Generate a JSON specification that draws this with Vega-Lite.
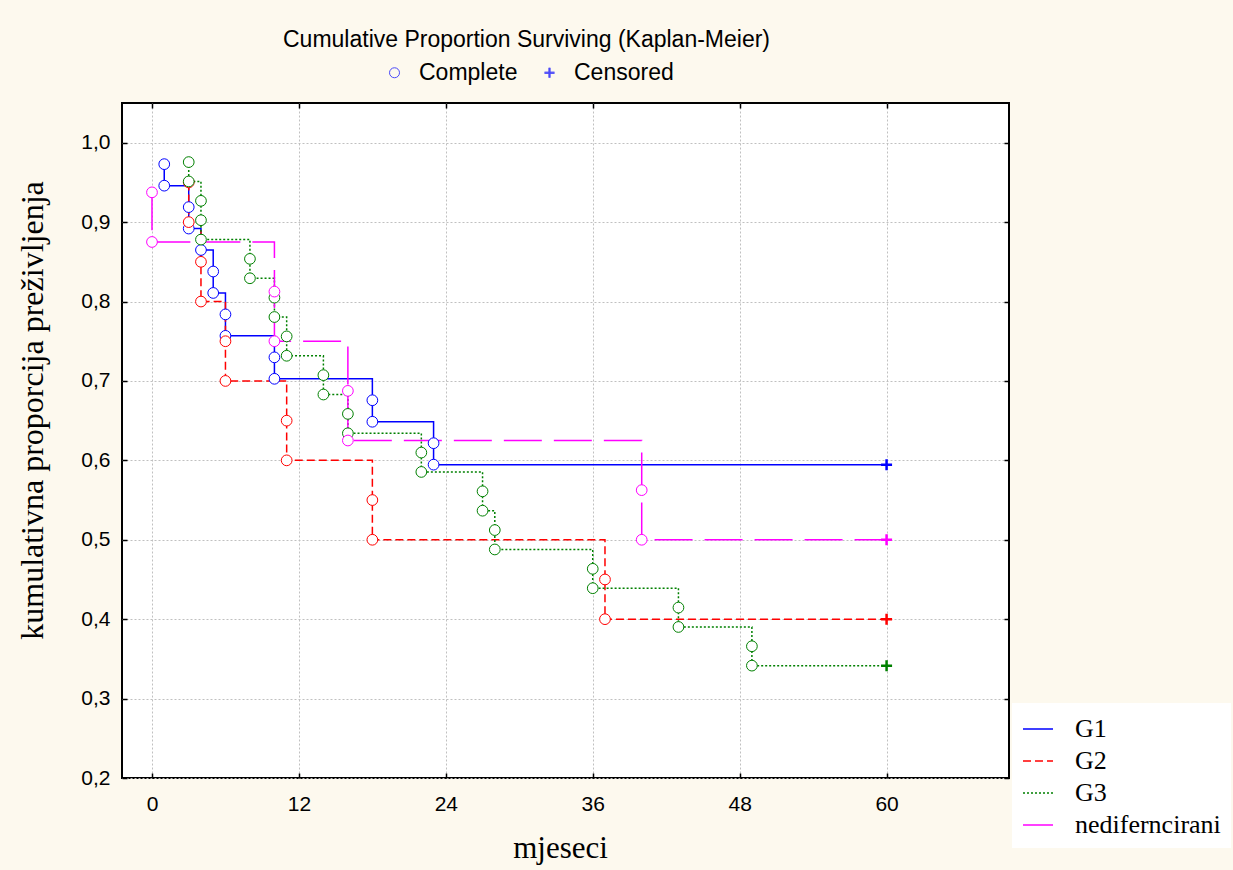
{
  "$schema": "https://vega.github.io/schema/vega-lite/v6.json",
  "width": 887,
  "height": 675,
  "autosize": {"type": "none"},
  "padding": {"left": 122, "top": 103, "right": 224, "bottom": 92},
  "background": "#FDF9EE",
  "title": {
    "text": "Cumulative Proportion Surviving (Kaplan-Meier)",
    "font": "Liberation Sans",
    "fontSize": 23,
    "fontWeight": "normal",
    "color": "#000000",
    "anchor": "middle",
    "dx": -39,
    "offset": 9
  },
  "datasets": {
    "km": [
      {"group": "G1", "i": 1, "t": 1, "s": 0.9730, "type": "Complete"},
      {"group": "G1", "i": 2, "t": 1, "s": 0.9459, "type": "Complete"},
      {"group": "G1", "i": 3, "t": 3, "s": 0.9189, "type": "Complete"},
      {"group": "G1", "i": 4, "t": 3, "s": 0.8919, "type": "Complete"},
      {"group": "G1", "i": 5, "t": 4, "s": 0.8649, "type": "Complete"},
      {"group": "G1", "i": 6, "t": 5, "s": 0.8378, "type": "Complete"},
      {"group": "G1", "i": 7, "t": 5, "s": 0.8108, "type": "Complete"},
      {"group": "G1", "i": 8, "t": 6, "s": 0.7838, "type": "Complete"},
      {"group": "G1", "i": 9, "t": 6, "s": 0.7568, "type": "Complete"},
      {"group": "G1", "i": 10, "t": 10, "s": 0.7297, "type": "Complete"},
      {"group": "G1", "i": 11, "t": 10, "s": 0.7027, "type": "Complete"},
      {"group": "G1", "i": 12, "t": 18, "s": 0.6757, "type": "Complete"},
      {"group": "G1", "i": 13, "t": 18, "s": 0.6486, "type": "Complete"},
      {"group": "G1", "i": 14, "t": 23, "s": 0.6216, "type": "Complete"},
      {"group": "G1", "i": 15, "t": 23, "s": 0.5946, "type": "Complete"},
      {"group": "G1", "i": 16, "t": 60, "s": 0.5946, "type": "Censored"},

      {"group": "G2", "i": 1, "t": 3, "s": 0.95, "type": "Complete"},
      {"group": "G2", "i": 2, "t": 3, "s": 0.90, "type": "Complete"},
      {"group": "G2", "i": 3, "t": 4, "s": 0.85, "type": "Complete"},
      {"group": "G2", "i": 4, "t": 4, "s": 0.80, "type": "Complete"},
      {"group": "G2", "i": 5, "t": 6, "s": 0.75, "type": "Complete"},
      {"group": "G2", "i": 6, "t": 6, "s": 0.70, "type": "Complete"},
      {"group": "G2", "i": 7, "t": 11, "s": 0.65, "type": "Complete"},
      {"group": "G2", "i": 8, "t": 11, "s": 0.60, "type": "Complete"},
      {"group": "G2", "i": 9, "t": 18, "s": 0.55, "type": "Complete"},
      {"group": "G2", "i": 10, "t": 18, "s": 0.50, "type": "Complete"},
      {"group": "G2", "i": 11, "t": 37, "s": 0.45, "type": "Complete"},
      {"group": "G2", "i": 12, "t": 37, "s": 0.40, "type": "Complete"},
      {"group": "G2", "i": 13, "t": 60, "s": 0.40, "type": "Censored"},

      {"group": "G3", "i": 1, "t": 3, "s": 0.9756, "type": "Complete"},
      {"group": "G3", "i": 2, "t": 3, "s": 0.9512, "type": "Complete"},
      {"group": "G3", "i": 3, "t": 4, "s": 0.9268, "type": "Complete"},
      {"group": "G3", "i": 4, "t": 4, "s": 0.9024, "type": "Complete"},
      {"group": "G3", "i": 5, "t": 4, "s": 0.8780, "type": "Complete"},
      {"group": "G3", "i": 6, "t": 8, "s": 0.8537, "type": "Complete"},
      {"group": "G3", "i": 7, "t": 8, "s": 0.8293, "type": "Complete"},
      {"group": "G3", "i": 8, "t": 10, "s": 0.8049, "type": "Complete"},
      {"group": "G3", "i": 9, "t": 10, "s": 0.7805, "type": "Complete"},
      {"group": "G3", "i": 10, "t": 11, "s": 0.7561, "type": "Complete"},
      {"group": "G3", "i": 11, "t": 11, "s": 0.7317, "type": "Complete"},
      {"group": "G3", "i": 12, "t": 14, "s": 0.7073, "type": "Complete"},
      {"group": "G3", "i": 13, "t": 14, "s": 0.6829, "type": "Complete"},
      {"group": "G3", "i": 14, "t": 16, "s": 0.6585, "type": "Complete"},
      {"group": "G3", "i": 15, "t": 16, "s": 0.6341, "type": "Complete"},
      {"group": "G3", "i": 16, "t": 22, "s": 0.6098, "type": "Complete"},
      {"group": "G3", "i": 17, "t": 22, "s": 0.5854, "type": "Complete"},
      {"group": "G3", "i": 18, "t": 27, "s": 0.5610, "type": "Complete"},
      {"group": "G3", "i": 19, "t": 27, "s": 0.5366, "type": "Complete"},
      {"group": "G3", "i": 20, "t": 28, "s": 0.5122, "type": "Complete"},
      {"group": "G3", "i": 21, "t": 28, "s": 0.4878, "type": "Complete"},
      {"group": "G3", "i": 22, "t": 36, "s": 0.4634, "type": "Complete"},
      {"group": "G3", "i": 23, "t": 36, "s": 0.4390, "type": "Complete"},
      {"group": "G3", "i": 24, "t": 43, "s": 0.4146, "type": "Complete"},
      {"group": "G3", "i": 25, "t": 43, "s": 0.3902, "type": "Complete"},
      {"group": "G3", "i": 26, "t": 49, "s": 0.3659, "type": "Complete"},
      {"group": "G3", "i": 27, "t": 49, "s": 0.3415, "type": "Complete"},
      {"group": "G3", "i": 28, "t": 60, "s": 0.3415, "type": "Censored"},

      {"group": "nediferncirani", "i": 1, "t": 0, "s": 0.9375, "type": "Complete"},
      {"group": "nediferncirani", "i": 2, "t": 0, "s": 0.8750, "type": "Complete"},
      {"group": "nediferncirani", "i": 3, "t": 10, "s": 0.8125, "type": "Complete"},
      {"group": "nediferncirani", "i": 4, "t": 10, "s": 0.7500, "type": "Complete"},
      {"group": "nediferncirani", "i": 5, "t": 16, "s": 0.6875, "type": "Complete"},
      {"group": "nediferncirani", "i": 6, "t": 16, "s": 0.6250, "type": "Complete"},
      {"group": "nediferncirani", "i": 7, "t": 40, "s": 0.5625, "type": "Complete"},
      {"group": "nediferncirani", "i": 8, "t": 40, "s": 0.5000, "type": "Complete"},
      {"group": "nediferncirani", "i": 9, "t": 60, "s": 0.5000, "type": "Censored"}
    ]
  },
  "data": {"name": "km"},
  "layer": [
    {
      "mark": {"type": "line", "interpolate": "step-after", "strokeWidth": 1.5},
      "encoding": {
        "x": {
          "field": "t",
          "type": "quantitative",
          "scale": {"domain": [-2.45, 70], "nice": false, "zero": false},
          "axis": {
            "orient": "bottom",
            "values": [0, 12, 24, 36, 48, 60],
            "tickSize": -5,
            "labelPadding": 20,
            "title": "mjeseci",
            "titleFont": "Liberation Serif",
            "titleFontSize": 31,
            "titleFontWeight": "normal",
            "titleColor": "#000000",
            "titleX": 438,
            "titleY": 79,
            "titleAlign": "center",
            "titleBaseline": "alphabetic"
          }
        },
        "y": {
          "field": "s",
          "type": "quantitative",
          "scale": {"domain": [0.2, 1.05], "nice": false, "zero": false},
          "axis": {
            "orient": "left",
            "values": [0.2, 0.3, 0.4, 0.5, 0.6, 0.7, 0.8, 0.9, 1.0],
            "labelExpr": "replace(format(datum.value, '.1f'), '.', ',')",
            "tickSize": -5,
            "labelPadding": 17,
            "title": "kumulativna proporcija preživljenja",
            "titleFont": "Liberation Serif",
            "titleFontSize": 32,
            "titleFontWeight": "normal",
            "titleColor": "#000000",
            "titleAngle": -90,
            "titleX": -80,
            "titleY": 307,
            "titleAlign": "center",
            "titleBaseline": "alphabetic"
          }
        },
        "color": {
          "field": "group",
          "type": "nominal",
          "scale": {
            "domain": ["G1", "G2", "G3", "nediferncirani"],
            "range": ["#0000FF", "#FF0000", "#008000", "#FF00FF"]
          },
          "legend": {
            "title": null,
            "orient": "none",
            "legendX": 890,
            "legendY": 600,
            "symbolType": "stroke",
            "symbolSize": 900,
            "symbolStrokeWidth": 1.5,
            "labelFont": "Liberation Serif",
            "labelFontSize": 26,
            "labelColor": "#000000",
            "labelOffset": 21,
            "labelLimit": 400,
            "rowPadding": 3,
            "padding": 10,
            "fillColor": "#FFFFFF"
          }
        },
        "strokeDash": {
          "field": "group",
          "type": "nominal",
          "scale": {
            "domain": ["G1", "G2", "G3", "nediferncirani"],
            "range": [[1, 0], [8, 4], [2, 2], [38, 12]]
          },
          "legend": {
            "title": null,
            "orient": "none",
            "legendX": 890,
            "legendY": 600,
            "symbolType": "stroke",
            "symbolSize": 900,
            "symbolStrokeWidth": 1.5,
            "labelFont": "Liberation Serif",
            "labelFontSize": 26,
            "labelColor": "#000000",
            "labelOffset": 21,
            "labelLimit": 400,
            "rowPadding": 3,
            "padding": 10,
            "fillColor": "#FFFFFF"
          }
        },
        "order": {"field": "i", "type": "quantitative"}
      }
    },
    {
      "mark": {"type": "point", "filled": false, "fill": "#FFFFFF", "fillOpacity": 1, "opacity": 1},
      "encoding": {
        "x": {
          "field": "t",
          "type": "quantitative",
          "scale": {"domain": [-2.45, 70], "nice": false, "zero": false},
          "axis": {
            "orient": "top",
            "values": [0, 12, 24, 36, 48, 60],
            "labels": false,
            "grid": false,
            "tickSize": -5,
            "title": null
          }
        },
        "y": {
          "field": "s",
          "type": "quantitative",
          "scale": {"domain": [0.2, 1.05], "nice": false, "zero": false},
          "axis": {
            "orient": "right",
            "values": [0.2, 0.3, 0.4, 0.5, 0.6, 0.7, 0.8, 0.9, 1.0],
            "labels": false,
            "grid": false,
            "tickSize": -5,
            "title": null
          }
        },
        "shape": {
          "field": "type",
          "type": "nominal",
          "scale": {
            "domain": ["Complete", "Censored"],
            "range": ["circle", "M-1,0H1M0,-1V1"]
          },
          "legend": null
        },
        "stroke": {
          "field": "group",
          "type": "nominal",
          "scale": {
            "domain": ["G1", "G2", "G3", "nediferncirani"],
            "range": ["#0000FF", "#FF0000", "#008000", "#FF00FF"]
          },
          "legend": null
        },
        "size": {
          "condition": {"test": "datum.type === 'Censored'", "value": 121},
          "value": 115
        },
        "strokeWidth": {
          "condition": {"test": "datum.type === 'Censored'", "value": 2.5},
          "value": 1
        }
      }
    },
    {
      "transform": [{"filter": "datum.t < 0"}],
      "mark": {"type": "point", "filled": false, "color": "#0000FF", "strokeWidth": 1},
      "encoding": {
        "x": {"field": "t", "type": "quantitative", "axis": null},
        "y": {"field": "s", "type": "quantitative", "axis": null},
        "shape": {
          "field": "type",
          "type": "nominal",
          "scale": {
            "domain": ["Complete", "Censored"],
            "range": [
              "circle",
              "M-1,0H1M0,-1V1M-1,0.13H1M-1,-0.13H1M0.13,-1V1M-0.13,-1V1"
            ]
          },
          "legend": {
            "title": null,
            "orient": "none",
            "direction": "horizontal",
            "legendX": 261,
            "legendY": -42,
            "padding": 0,
            "symbolSize": 100,
            "symbolStrokeColor": "#0000FF",
            "symbolFillColor": "#FFFFFF",
            "symbolStrokeWidth": 1,
            "labelFont": "Liberation Sans",
            "labelFontSize": 23,
            "labelColor": "#000000",
            "labelOffset": 13,
            "columnPadding": 20
          }
        }
      }
    }
  ],
  "resolve": {
    "axis": {"x": "independent", "y": "independent"},
    "scale": {"shape": "independent"},
    "legend": {"shape": "independent"}
  },
  "config": {
    "view": {"stroke": "#000000", "strokeWidth": 2, "fill": "#FFFFFF"},
    "axis": {
      "labelFont": "Liberation Sans",
      "labelFontSize": 21,
      "labelColor": "#000000",
      "tickColor": "#000000",
      "tickWidth": 1.5,
      "domain": false,
      "gridColor": "#C0C0C0",
      "gridDash": [2, 2],
      "gridWidth": 1
    }
  }
}
